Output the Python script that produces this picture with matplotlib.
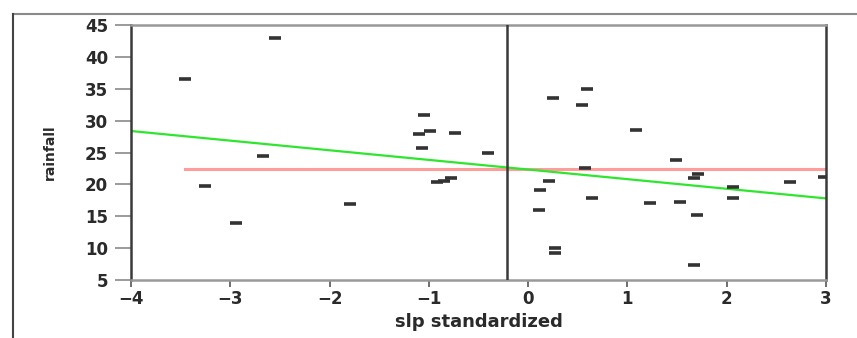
import matplotlib
matplotlib.use("Agg")
import matplotlib.pyplot as plt
from matplotlib.lines import Line2D

# data
slp = [-3.46, -2.55, -2.67, -3.25, -2.94, -1.79,
       -1.05, -1.10, -0.99, -0.74, -1.07, -0.40, -0.92, -0.85, -0.78,
       0.59, 0.25, 0.54, 0.57, 0.21, 0.12, 0.64, 0.11, 0.27, 0.27,
       1.09, 1.23, 1.49, 1.71, 1.67, 2.06, 2.06, 1.53, 1.70, 1.67,
       2.64, 2.98]
rainfall = [36.6, 42.9, 24.4, 19.8, 14.0, 16.9,
            30.9, 27.95, 28.4, 28.0, 25.75, 24.9, 20.3, 20.6, 21.05,
            34.9, 33.5, 32.45, 22.5, 20.6, 19.1, 17.8, 16.0, 10.05, 9.2,
            28.5, 17.1, 23.8, 21.6, 20.95, 19.6, 17.8, 17.3, 15.2, 7.35,
            20.4, 21.2]

rain_mean = 22.4        # red horizontal line
slp_ref = -0.21         # black vertical line
fit_intercept = 22.33   # green fitted line
fit_slope = -1.51

xticks = [-4, -3, -2, -1, 0, 1, 2, 3]
yticks = [5, 10, 15, 20, 25, 30, 35, 40, 45]

fig = plt.figure(figsize=(8.57, 3.38), dpi=100)
ax = fig.add_axes([131/857, 1-280/338, (826-131)/857, (280-25)/338])

# outer frame bits of the original screenshot
fig.add_artist(Line2D([13/857, 1.0], [1-14/338, 1-14/338], transform=fig.transFigure,
                      color="#8a8a8a", lw=1.5))
fig.add_artist(Line2D([13/857, 13/857], [0, 1-14/338], transform=fig.transFigure,
                      color="#444444", lw=1.5))

ax.set_xlim(-4, 3)
ax.set_ylim(5, 45)

xs = [-4, 3]
ax.plot(xs, [fit_intercept + fit_slope*v for v in xs], color="#2ee62e", lw=1.6, zorder=2)
ax.plot([min(slp), max(slp)], [rain_mean, rain_mean], color="#ff9d9d", lw=2.2, zorder=1)
ax.axvline(slp_ref, color="#3a3a3a", lw=1.8, zorder=3)
ax.plot(slp, rainfall, ls="none", marker="_", markersize=8, mew=2.6, color="#333333", zorder=4)

for s in ["top", "bottom"]:
    ax.spines[s].set_color("#999999")
    ax.spines[s].set_linewidth(1.8)
for s in ["left", "right"]:
    ax.spines[s].set_color("#3a3a3a")
    ax.spines[s].set_linewidth(1.8)

ax.set_xticks(xticks)
ax.set_yticks(yticks)
ax.set_xticklabels([str(t).replace("-", "\u2212") for t in xticks])
ax.tick_params(axis="y", direction="out", length=11.5, width=1.2, color="#8a8a8a", pad=5,
               labelsize=12, labelcolor="#2a2a2a")
ax.tick_params(axis="x", direction="out", length=5, width=1.2, color="#555555", pad=2,
               labelsize=12, labelcolor="#2a2a2a")
for lab in ax.get_xticklabels() + ax.get_yticklabels():
    lab.set_fontweight("bold")

ax.set_xlabel("slp standardized", fontsize=13, fontweight="bold", color="#2a2a2a", labelpad=4)
ax.set_ylabel("rainfall", fontsize=10, fontweight="bold", color="#2a2a2a", labelpad=20)

fig.savefig("out.png", dpi=100)
